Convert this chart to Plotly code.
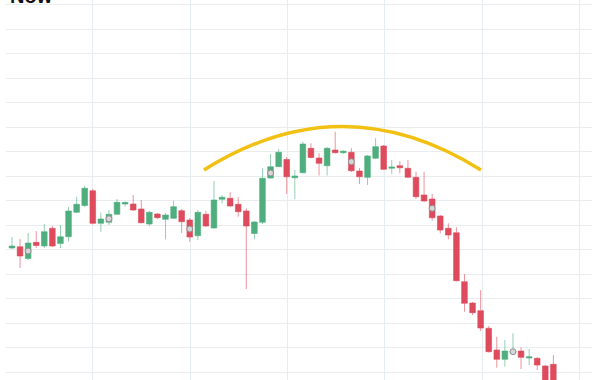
import plotly.graph_objects as go

# candle index (one per session)
idx = list(range(68))

open_ = [125.34, 125.60, 123.19, 126.50, 125.75, 129.36, 126.26, 127.65, 132.63, 134.02,
         137.04, 130.38, 130.59, 132.22, 134.33, 134.33, 133.31, 130.24, 132.28, 131.20,
         131.41, 132.96, 131.06, 127.85, 132.22, 129.42, 135.29, 135.49, 134.27, 132.90,
         128.30, 130.59, 139.64, 141.95, 143.42, 139.70, 140.72, 145.71, 143.73, 142.15,
         145.36, 144.81, 144.89, 141.07, 139.78, 143.67, 146.18, 141.62, 142.15, 141.62,
         139.78, 136.17, 135.35, 131.88, 129.36, 128.46, 118.45, 114.10, 112.53, 108.93,
         104.50, 102.59, 103.98, 104.29, 102.86, 102.80, 101.23, 101.57]
high = [127.58, 127.18, 128.40, 128.81, 130.24, 129.83, 130.04, 133.71, 135.82, 138.01,
        137.39, 132.55, 133.10, 135.35, 134.94, 136.17, 135.14, 132.90, 132.49, 132.49,
        135.00, 133.31, 131.47, 133.10, 132.90, 139.03, 136.17, 136.72, 135.70, 133.45,
        130.85, 141.62, 144.54, 145.57, 143.93, 141.27, 147.06, 146.73, 144.69, 145.97,
        149.10, 145.36, 145.71, 141.68, 144.34, 147.75, 146.38, 143.32, 143.11, 143.32,
        140.93, 140.93, 136.37, 132.08, 130.38, 129.57, 120.02, 114.30, 116.76, 109.40,
        107.21, 106.54, 107.91, 105.05, 104.70, 103.06, 101.43, 103.47]
low = [125.13, 121.25, 122.88, 125.34, 125.34, 125.54, 125.34, 126.67, 132.49, 133.71,
       130.14, 128.67, 130.04, 132.08, 133.78, 132.90, 130.34, 129.83, 131.26, 127.11,
       131.26, 128.40, 126.62, 126.97, 129.63, 129.32, 134.47, 133.71, 131.73, 116.96,
       127.11, 130.24, 139.54, 141.89, 136.37, 135.35, 140.56, 143.62, 140.15, 140.15,
       144.65, 144.54, 140.87, 138.41, 138.21, 143.52, 141.27, 140.46, 140.60, 139.64,
       135.35, 134.74, 130.92, 128.34, 127.11, 118.49, 112.32, 111.65, 108.38, 103.98,
       100.88, 101.08, 103.47, 100.61, 101.43, 100.41, 95.71, 96.32]
close = [125.75, 123.70, 126.36, 125.85, 128.67, 125.75, 127.65, 132.90, 134.27, 137.54,
         130.38, 131.26, 132.22, 134.67, 134.63, 133.10, 130.51, 132.63, 131.53, 132.08,
         133.78, 130.71, 127.58, 132.63, 129.83, 135.14, 135.70, 133.92, 132.75, 129.83,
         130.65, 139.58, 141.95, 144.89, 139.91, 140.05, 146.59, 143.83, 142.64, 145.71,
         144.81, 145.12, 141.13, 139.91, 144.14, 146.04, 141.42, 141.89, 141.74, 139.78,
         135.82, 134.94, 131.53, 129.01, 127.99, 118.66, 114.04, 112.12, 108.99, 104.15,
         102.59, 104.29, 104.25, 103.00, 103.11, 101.43, 96.32, 97.14]

# highlighted sessions (every tenth candle)
mark_idx = [2, 12, 22, 32, 42, 52, 62]
mark_val = [124.72, 131.32, 129.22, 140.66, 142.97, 133.45, 104.15]

# rounded-top arc (start, control, end)
arc_x = [23.76, 40.9, 58.04]
arc_y = [141.27, 159.05, 141.27]

GREEN = "#4fae7e"
RED = "#dd4b5c"

fig = go.Figure()
fig.add_trace(go.Candlestick(
    x=idx, open=open_, high=high, low=low, close=close,
    increasing=dict(line=dict(color="rgba(79,174,126,0.6)", width=1), fillcolor=GREEN),
    decreasing=dict(line=dict(color="rgba(221,75,92,0.6)", width=1), fillcolor=RED),
    whiskerwidth=0, showlegend=False, hoverinfo="skip",
))
fig.add_trace(go.Scatter(
    x=mark_idx, y=mark_val, mode="markers",
    marker=dict(size=6, color="#d6d6d6", line=dict(color="#8f8f8f", width=1)),
    showlegend=False, hoverinfo="skip",
))

path = "M {},{} Q {},{} {},{}".format(arc_x[0], arc_y[0], arc_x[1], arc_y[1], arc_x[2], arc_y[2])
fig.add_shape(type="path", path=path, xref="x", yref="y",
              line=dict(color="#f2c012", width=3.5), layer="above")

fig.add_annotation(text="<b>Now</b>", xref="paper", yref="paper", x=0, y=1,
                   xanchor="left", yanchor="bottom", xshift=2, yshift=-9,
                   showarrow=False, font=dict(family="Liberation Sans", size=20, color="#111111"))

fig.update_layout(
    width=603, height=380,
    margin=dict(l=6, r=11, t=0, b=0),
    paper_bgcolor="white", plot_bgcolor="white",
    boxgap=0.3, boxgroupgap=0,
    xaxis=dict(range=[-0.74, 71.78], rangeslider=dict(visible=False),
               showticklabels=False, tick0=10, dtick=12.05,
               showgrid=True, gridcolor="#e6edf1", gridwidth=1, zeroline=False,
               showline=False, fixedrange=True),
    yaxis=dict(range=[98.37, 176.01], showticklabels=False, tick0=100, dtick=5,
               showgrid=True, gridcolor="#e9edf0", gridwidth=1, zeroline=False,
               showline=False, fixedrange=True),
)

fig.write_html("out.html", config=dict(displayModeBar=False))
